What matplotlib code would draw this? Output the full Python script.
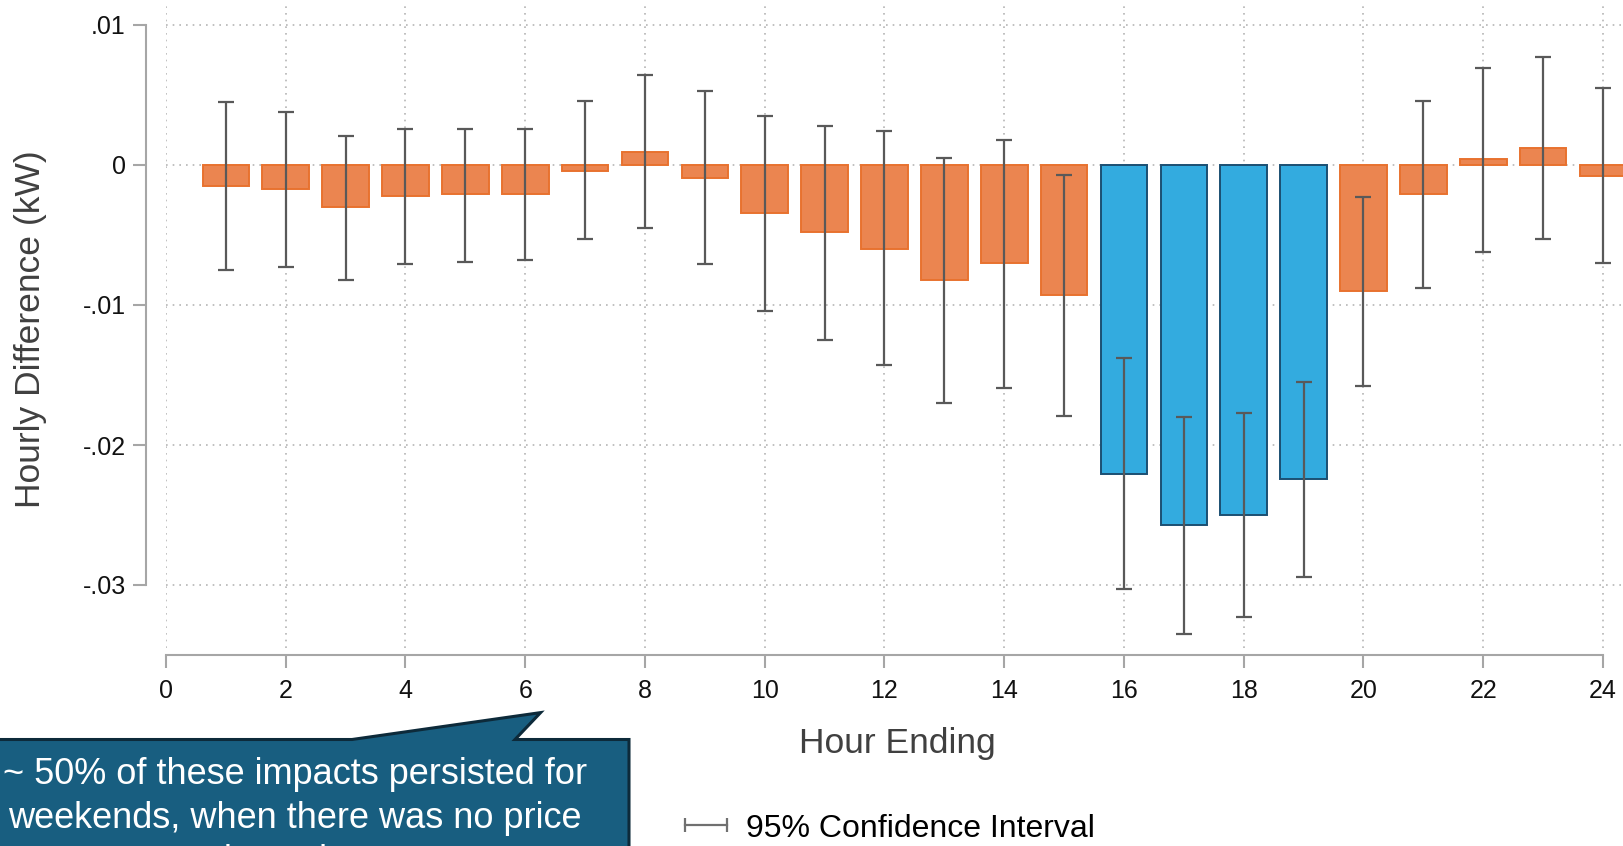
import matplotlib
matplotlib.use('Agg')
import matplotlib.pyplot as plt
from matplotlib import font_manager
from matplotlib.patches import Polygon
from matplotlib.lines import Line2D

# ---------------- data ----------------
hours = list(range(1, 25))
estimate = [-0.0015, -0.0017, -0.0030, -0.0022, -0.0021, -0.0021, -0.0004, 0.0009,
            -0.0009, -0.0034, -0.0048, -0.0060, -0.0082, -0.0070, -0.0093, -0.0221,
            -0.0257, -0.0250, -0.0224, -0.0090, -0.0021, 0.0004, 0.0012, -0.0008]
ci_upper = [0.0045, 0.0038, 0.0021, 0.0026, 0.0026, 0.0026, 0.0046, 0.0064,
            0.0053, 0.0035, 0.0028, 0.0024, 0.0005, 0.0018, -0.0007, -0.0138,
            -0.0180, -0.0177, -0.0155, -0.0023, 0.0046, 0.0069, 0.0077, 0.0055]
ci_lower = [-0.0075, -0.0073, -0.0082, -0.0071, -0.0069, -0.0068, -0.0053, -0.0045,
            -0.0071, -0.0104, -0.0125, -0.0143, -0.0170, -0.0159, -0.0179, -0.0303,
            -0.0335, -0.0323, -0.0294, -0.0158, -0.0088, -0.0062, -0.0053, -0.0070]
peak_hours = [16, 17, 18, 19]
x_ticks = list(range(0, 25, 2))
y_ticks = [0.01, 0.0, -0.01, -0.02, -0.03]
y_tick_labels = ['.01', '0', '-.01', '-.02', '-.03']
x_title = 'Hour Ending'
y_title = 'Hourly Difference (kW)'
legend_label = '95% Confidence Interval'
callout_lines = ['~ 50% of these impacts persisted for',
                 'weekends, when there was no price',
                 'incentive']

# ---------------- style ----------------
W, H = 1624, 846
plt.rcParams['font.family'] = ['Liberation Sans', 'DejaVu Sans']

names = {f.name for f in font_manager.fontManager.ttflist}
if 'Liberation Sans Narrow' in names:
    callout_font = ['Liberation Sans Narrow', 'Liberation Sans', 'DejaVu Sans']
    callout_size = 31
else:
    callout_font = ['Liberation Sans', 'DejaVu Sans']
    callout_size = 26

fig = plt.figure(figsize=(W / 100, H / 100), dpi=100)
fig.patch.set_facecolor('white')

left_px, right_px, top_px, bot_px = 166, 1624, 5, 648
ax = fig.add_axes([left_px / W, 1 - bot_px / H, (right_px - left_px) / W, (bot_px - top_px) / H])

px_per_hour = (1603 - 166) / 24.0
px_per_unit = 140.0 / 0.01
ax.set_xlim(0, 24 + (right_px - 1603) / px_per_hour)
ax.set_ylim(-(bot_px - 165) / px_per_unit, (165 - top_px) / px_per_unit)

orange_fill, orange_edge = '#EB8550', '#E8722F'
blue_fill, blue_edge = '#33ABDF', '#1B4F72'
fills = [blue_fill if h in peak_hours else orange_fill for h in hours]
edges = [blue_edge if h in peak_hours else orange_edge for h in hours]

ax.bar(hours, estimate, width=0.78, color=fills, edgecolor=edges, linewidth=1.4, zorder=2)

yerr = [[e - lo for e, lo in zip(estimate, ci_lower)], [up - e for e, up in zip(estimate, ci_upper)]]
ax.errorbar(hours, estimate, yerr=yerr, fmt='none', ecolor='#595959', elinewidth=1.6,
            capsize=6, capthick=1.6, zorder=3)

# grid
ax.set_axisbelow(True)
ax.grid(True, color='#B5B5B5', linestyle=(0, (1, 3)), linewidth=1.2)

# spines
for s in ['top', 'right']:
    ax.spines[s].set_visible(False)
ax.spines['left'].set_position(('outward', 20 * 0.72))
ax.spines['bottom'].set_position(('outward', 7 * 0.72))
ax.spines['left'].set_bounds(-0.03, 0.01)
ax.spines['bottom'].set_bounds(0, 24)
for s in ['left', 'bottom']:
    ax.spines[s].set_color('#A6A6A6')
    ax.spines[s].set_linewidth(1.5)

ax.set_xticks(x_ticks)
ax.set_xticklabels([str(t) for t in x_ticks])
ax.set_yticks(y_ticks)
ax.set_yticklabels(y_tick_labels)
ax.tick_params(axis='x', length=9.5, width=1.5, color='#A6A6A6', pad=8, labelsize=18, labelcolor='#111111')
ax.tick_params(axis='y', length=9.5, width=1.5, color='#A6A6A6', pad=5, labelsize=18, labelcolor='#111111')

ax.set_xlabel(x_title, fontsize=25.5, color='#404040')
ax.xaxis.set_label_coords((897 - left_px) / (right_px - left_px), (bot_px - 743.5) / (bot_px - top_px))
ax.xaxis.label.set_verticalalignment('center')
ax.set_ylabel(y_title, fontsize=25.5, color='#404040')
ax.yaxis.set_label_coords((31 - left_px) / (right_px - left_px), (bot_px - 329) / (bot_px - top_px))
ax.yaxis.label.set_verticalalignment('center')

# legend
handle = Line2D([], [], color='#707070', lw=1.6, marker='|', markersize=10, markeredgewidth=1.6)
fig.legend([handle], [legend_label], loc='center left', bbox_to_anchor=(675.5 / W, 1 - 828.5 / H),
           frameon=False, fontsize=23, numpoints=2, handlelength=1.9, handletextpad=0.3,
           borderpad=0, borderaxespad=0)

# callout
def fxy(x, y):
    return (x / W, 1 - y / H)

poly_px = [(-40, 900), (-40, 739.5), (352, 739.5), (540.6, 712.6), (515, 739.5), (629, 739.5), (629, 900)]
callout = Polygon([fxy(x, y) for x, y in poly_px], closed=True, transform=fig.transFigure,
                  facecolor='#185E80', edgecolor='#0D2A3A', linewidth=2.2, clip_on=False, zorder=5)
fig.add_artist(callout)
for i, line in enumerate(callout_lines):
    cx, cy = fxy(295, 784 + i * 43.5)
    fig.text(cx, cy, line, ha='center', va='baseline', color='white', fontsize=callout_size,
             family=callout_font, zorder=6)

fig.savefig('out.png', dpi=100)
